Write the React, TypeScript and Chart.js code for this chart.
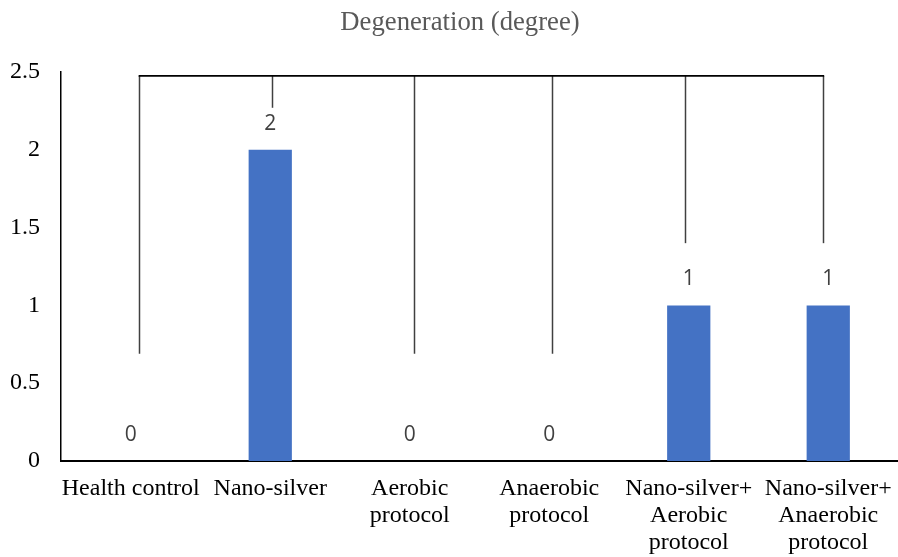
import React, { useEffect, useRef } from "react";
import { Chart, registerables } from "chart.js";

Chart.register(...registerables);

const categories: (string | string[])[] = [
  "Health control",
  "Nano-silver",
  ["Aerobic", "protocol"],
  ["Anaerobic", "protocol"],
  ["Nano-silver+", "Aerobic", "protocol"],
  ["Nano-silver+", "Anaerobic", "protocol"],
];
const values = [0, 2, 0, 0, 1, 1];
// bracket lines (category position, bottom value), joined at a common top value
const bracketX = [0.06, 1.01, 2.03, 3.02, 3.97, 4.96];
const bracketBottom = [0.69, 2.27, 0.69, 0.69, 1.4, 1.4];
const bracketTop = 2.475;
const yTicks = [0, 0.5, 1, 1.5, 2, 2.5];
const titleText = "Degeneration (degree)";

const SERIF = "'Liberation Serif', 'Times New Roman', serif";

const overlayPlugin = {
  id: "overlay",
  afterDatasetsDraw(chart: any) {
    const { ctx, scales } = chart;
    const xs = scales.x;
    const ys = scales.y;
    ctx.save();
    // bracket verticals
    ctx.strokeStyle = "#404040";
    ctx.lineWidth = 1.5;
    bracketX.forEach((bx, i) => {
      const px = Math.round(xs.getPixelForValue(bx)) + 0.5;
      ctx.beginPath();
      ctx.moveTo(px, ys.getPixelForValue(bracketBottom[i]));
      ctx.lineTo(px, ys.getPixelForValue(bracketTop));
      ctx.stroke();
    });
    // bracket horizontal
    ctx.strokeStyle = "#000000";
    ctx.lineWidth = 1.8;
    const hy = ys.getPixelForValue(bracketTop);
    ctx.beginPath();
    ctx.moveTo(xs.getPixelForValue(bracketX[0]) - 0.5, hy);
    ctx.lineTo(xs.getPixelForValue(bracketX[bracketX.length - 1]) + 1.5, hy);
    ctx.stroke();
    // data labels
    const meta = chart.getDatasetMeta(0);
    ctx.fillStyle = "#404040";
    ctx.font = "21px 'Open Sans', sans-serif";
    ctx.textAlign = "center";
    ctx.textBaseline = "middle";
    meta.data.forEach((el: any, i: number) => {
      ctx.fillText(String(values[i]), el.x, el.y - 26);
    });
    // title
    ctx.fillStyle = "#595959";
    ctx.font = "26.7px " + SERIF;
    ctx.fillText(titleText, (chart.width + 22) / 2, 23);
    ctx.restore();
  },
};

export default function App() {
  const ref = useRef<HTMLCanvasElement | null>(null);
  useEffect(() => {
    if (!ref.current) return;
    const chart = new Chart(ref.current, {
      type: "bar",
      data: {
        labels: categories as any,
        datasets: [
          {
            data: values,
            backgroundColor: "#4472C4",
            barPercentage: 0.31,
            categoryPercentage: 1,
          },
        ],
      },
      options: {
        animation: false,
        responsive: false,
        devicePixelRatio: 1,
        layout: { padding: { left: 0, right: 0, top: 72, bottom: 0 } },
        plugins: {
          legend: { display: false },
          tooltip: { enabled: false },
          title: { display: false },
        },
        scales: {
          x: {
            afterFit(scale: any) {
              scale.height = 96;
              scale.paddingLeft = 0;
              scale.paddingRight = 0;
            },
            grid: { display: false, drawTicks: false },
            border: { display: true, color: "#000000", width: 2 },
            ticks: {
              color: "#000000",
              font: { family: SERIF, size: 24, lineHeight: 1.125 },
              padding: 14,
              maxRotation: 0,
              autoSkip: false,
            },
          },
          y: {
            min: 0,
            max: 2.5,
            afterFit(scale: any) {
              scale.width = 61;
            },
            afterBuildTicks(scale: any) {
              scale.ticks = yTicks.map((v) => ({ value: v }));
            },
            grid: { display: false, drawTicks: false },
            border: { display: true, color: "#000000", width: 1.5 },
            ticks: {
              color: "#000000",
              font: { family: SERIF, size: 24 },
              padding: 21,
              callback: (v: any) => String(v),
            },
          },
        },
      },
      plugins: [overlayPlugin],
    });
    return () => chart.destroy();
  }, []);
  return (
    <div style={{ position: "absolute", left: 0, top: 0, width: 898, height: 557 }}>
      <canvas ref={ref} width={898} height={557} />
    </div>
  );
}
